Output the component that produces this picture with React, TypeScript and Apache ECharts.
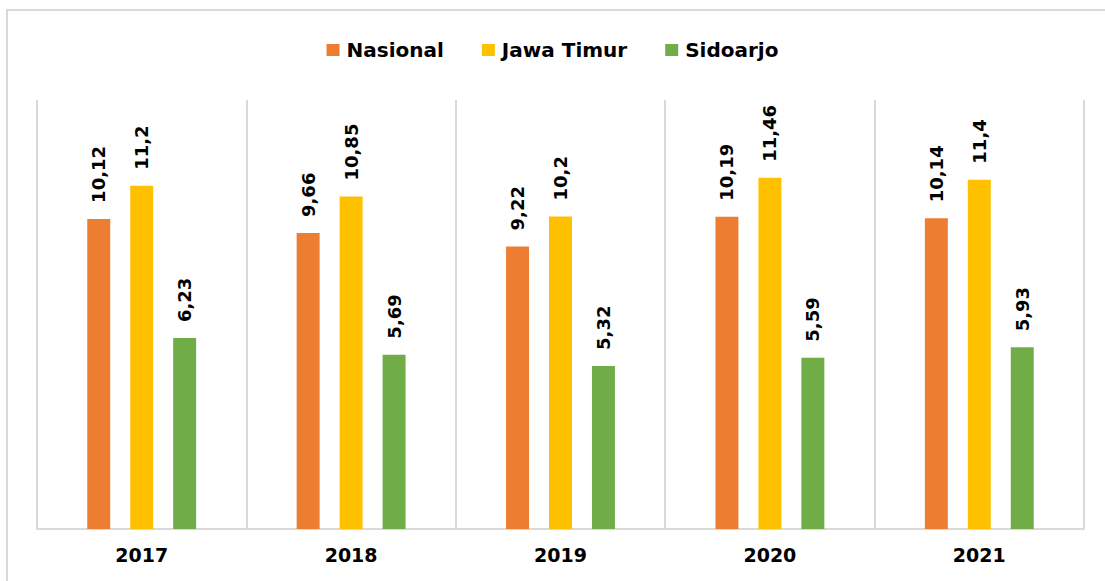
import React, { useEffect, useRef } from "react";
import * as echarts from "echarts";

const categories = ["2017", "2018", "2019", "2020", "2021"];
const nasional = [10.12, 9.66, 9.22, 10.19, 10.14];
const jawaTimur = [11.2, 10.85, 10.2, 11.46, 11.4];
const sidoarjo = [6.23, 5.69, 5.32, 5.59, 5.93];
const seriesNames = ["Nasional", "Jawa Timur", "Sidoarjo"];
const colors = ["#ED7D31", "#FFC000", "#70AD47"];

const FONT = "'DejaVu Sans', Verdana, sans-serif";

export default function App() {
  const ref = useRef<HTMLDivElement>(null);
  useEffect(() => {
    if (!ref.current) return;
    const chart = echarts.init(ref.current, undefined, { renderer: "svg" });
    const label = {
      show: true,
      position: "top",
      rotate: 90,
      align: "left",
      verticalAlign: "middle",
      distance: 16,
      fontFamily: FONT,
      fontWeight: "bold",
      fontSize: 18,
      color: "#000",
      formatter: (p: any) => String(p.value).replace(".", ","),
    };
    const data = [nasional, jawaTimur, sidoarjo];
    chart.setOption({
      animation: false,
      backgroundColor: "#fff",
      graphic: [
        {
          type: "rect",
          shape: { x: 7, y: 10, width: 1120, height: 600 },
          style: { fill: "none", stroke: "#d9d9d9", lineWidth: 2 },
          silent: true,
        },
      ],
      legend: {
        top: 35,
        left: "center",
        icon: "rect",
        itemWidth: 13,
        itemHeight: 12,
        itemGap: 38,
        textStyle: {
          fontFamily: FONT,
          fontWeight: "bold",
          fontSize: 20,
          color: "#000",
          padding: [0, 0, 0, 2],
        },
        data: seriesNames,
      },
      grid: { left: 37, right: 21, top: 100, bottom: 52 },
      xAxis: {
        type: "category",
        data: categories,
        axisLine: { lineStyle: { color: "#d9d9d9", width: 2 } },
        axisTick: { show: false },
        splitLine: { show: true, lineStyle: { color: "#d9d9d9", width: 2 } },
        axisLabel: {
          fontFamily: FONT,
          fontWeight: "bold",
          fontSize: 19,
          color: "#000",
          margin: 16,
        },
      },
      yAxis: {
        type: "value",
        min: 0,
        max: 14,
        show: false,
        splitLine: { show: false },
      },
      series: seriesNames.map((name, i) => ({
        name,
        type: "bar",
        data: data[i],
        barGap: "87%",
        barCategoryGap: "48%",
        itemStyle: { color: colors[i] },
        label,
      })),
    });
    return () => chart.dispose();
  }, []);
  return (
    <div
      ref={ref}
      style={{ position: "fixed", left: 0, top: 0, width: 1105, height: 581 }}
    />
  );
}
